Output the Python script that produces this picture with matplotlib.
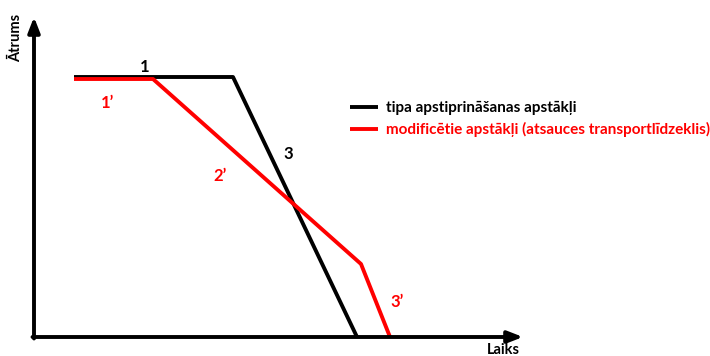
"""Speed vs time diagram: type-approval vs modified conditions."""
import matplotlib
matplotlib.use("Agg")
import matplotlib.pyplot as plt

plt.rcParams.update({
    'font.family': ['Lato', 'DejaVu Sans'],
    'font.weight': 'bold',
})

# ============ DATA ============
time_type = [40, 199, 323]
speed_type = [260, 260, 0]
time_mod = [40, 119, 327, 356]
speed_mod = [258, 258, 73, 0]

label_type = "tipa apstiprināšanas apstākļi"
label_mod = "modificētie apstākļi (atsauces transportlīdzeklis)"

# segment labels: (text, x, y, colour)
seg_labels = [
    ("1", 111, 270, 'black'),
    ("1\u2019", 73, 234, 'red'),
    ("2\u2019", 186, 161, 'red'),
    ("3", 254, 183, 'black'),
    ("3\u2019", 363, 35, 'red'),
]

# ============ PLOT ============
fig = plt.figure(figsize=(7.1, 3.56), dpi=100)
ax = fig.add_axes([0, 0, 1, 1])
ax.set_xlim(-34, 676)
ax.set_ylim(-19, 337)
ax.axis('off')

arrow = dict(arrowstyle='-|>,head_length=0.9,head_width=0.35', lw=2.8,
             color='black', shrinkA=0, shrinkB=0)
ax.annotate('', xy=(0, 320), xytext=(0, -1.5), arrowprops=arrow)
ax.annotate('', xy=(489, 0), xytext=(-1.5, 0), arrowprops=arrow)

ax.text(-18, 299, "Ātrums", rotation=90, ha='center', va='center',
        fontsize=10.5, fontweight='bold')
ax.text(469, -13, "Laiks", ha='center', va='center',
        fontsize=10.5, fontweight='bold')

ax.plot(time_type, speed_type, color='black', lw=2.8,
        solid_capstyle='butt', label=label_type)
ax.plot(time_mod, speed_mod, color='red', lw=2.8,
        solid_capstyle='butt', label=label_mod)

for txt, x, y, c in seg_labels:
    ax.text(x, y, txt, color=c, fontsize=12, fontweight='bold',
            ha='center', va='center')

ax.legend(loc='center left', bbox_to_anchor=(336 / 710, 1 - 119 / 356),
          frameon=False, labelcolor='linecolor', handlelength=1.85,
          handletextpad=0.5, labelspacing=0.44,
          prop={'size': 11, 'weight': 'bold'})

plt.savefig("out.png", dpi=100, facecolor='white')
plt.close(fig)
